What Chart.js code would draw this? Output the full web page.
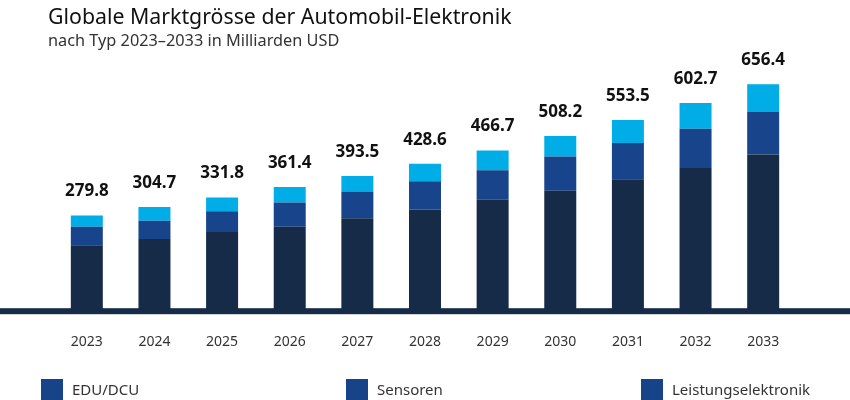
<!DOCTYPE html>
<html lang="de">
<head>
<meta charset="utf-8">
<title>Automobil-Elektronik</title>
<script src="https://cdn.jsdelivr.net/npm/chart.js@4"></script>
<style>
  html, body { margin: 0; padding: 0; background: #fff; }
  body { width: 850px; height: 400px; position: relative; overflow: hidden; font-family: "Noto Sans", sans-serif; }
  #chart { position: absolute; left: 0; top: 0; width: 850px; height: 400px; }
  #title { position: absolute; left: 48px; top: 1px; font-size: 21.3px; color: #111; white-space: nowrap; }
  #subtitle { position: absolute; left: 48px; top: 29px; font-size: 16.3px; color: #333; white-space: nowrap; }
  .leg { position: absolute; top: 378px; height: 22px; display: flex; align-items: center; font-size: 15px; color: #333; white-space: nowrap; }
  .leg span.box { display: inline-block; width: 22px; height: 24px; margin-right: 9px; margin-top: 4px; }
</style>
</head>
<body>
<canvas id="chart" width="850" height="400"></canvas>
<div id="title">Globale Marktgrösse der Automobil-Elektronik</div>
<div id="subtitle">nach Typ 2023–2033 in Milliarden USD</div>
<div id="legend"></div>
<script>
const years = ["2023", "2024", "2025", "2026", "2027", "2028", "2029", "2030", "2031", "2032", "2033"];
const seriesNames = ["EDU/DCU", "Sensoren", "Leistungselektronik"];
const eduDcu = [195, 213, 233, 248, 272, 297, 325, 351, 384, 416, 455];
const sensoren = [52.5, 52, 59, 69, 77, 81, 84.5, 98.5, 104, 113, 121.5];
const leistung = [32.3, 39.7, 39.8, 44.4, 44.5, 50.6, 57.2, 58.7, 65.5, 73.7, 79.9];
const totals = [279.8, 304.7, 331.8, 361.4, 393.5, 428.6, 466.7, 508.2, 553.5, 602.7, 656.4];

const barColors = ["#162b47", "#17448a", "#00ade6"];
const legendColor = "#174489";
const legendLeft = [41, 346, 641];

// bottom line across the whole width and totals above the stacks
const extras = {
  id: "extras",
  afterDatasetsDraw(chart) {
    const ctx = chart.ctx;
    const y0 = chart.scales.y.getPixelForValue(0);
    ctx.save();
    ctx.fillStyle = "#162b47";
    ctx.fillRect(0, y0 - 5, chart.width, 6);

    const top = chart.getDatasetMeta(chart.data.datasets.length - 1);
    ctx.fillStyle = "#111";
    ctx.font = "bold 17px 'Noto Sans'";
    ctx.textAlign = "center";
    ctx.textBaseline = "middle";
    top.data.forEach((bar, i) => {
      ctx.fillText(totals[i].toFixed(1), bar.x, bar.y - 24);
    });
    ctx.restore();
  }
};

const chart = new Chart(document.getElementById("chart"), {
  type: "bar",
  data: {
    labels: years,
    datasets: [
      { label: seriesNames[0], data: eduDcu, backgroundColor: barColors[0] },
      { label: seriesNames[1], data: sensoren, backgroundColor: barColors[1] },
      { label: seriesNames[2], data: leistung, backgroundColor: barColors[2] }
    ]
  },
  options: {
    responsive: false,
    animation: false,
    devicePixelRatio: 1,
    datasets: { bar: { categoryPercentage: 1, barPercentage: 0.473 } },
    layout: { padding: { left: 53, right: 53, top: 69, bottom: 30 } },
    plugins: { legend: { display: false }, tooltip: { enabled: false } },
    scales: {
      x: {
        stacked: true,
        grid: { display: false, drawTicks: false },
        border: { display: false },
        ticks: { color: "#333", padding: 20, maxRotation: 0, font: { family: "Noto Sans", size: 14 } }
      },
      y: {
        stacked: true,
        display: false,
        min: 0,
        max: 700
      }
    }
  },
  plugins: [extras]
});

// html legend, all boxes in the same blue like the original
const legendEl = document.getElementById("legend");
seriesNames.forEach((name, i) => {
  const item = document.createElement("div");
  item.className = "leg";
  item.style.left = legendLeft[i] + "px";
  item.innerHTML = '<span class="box" style="background:' + legendColor + '"></span>' + name;
  legendEl.appendChild(item);
});
</script>
</body>
</html>
